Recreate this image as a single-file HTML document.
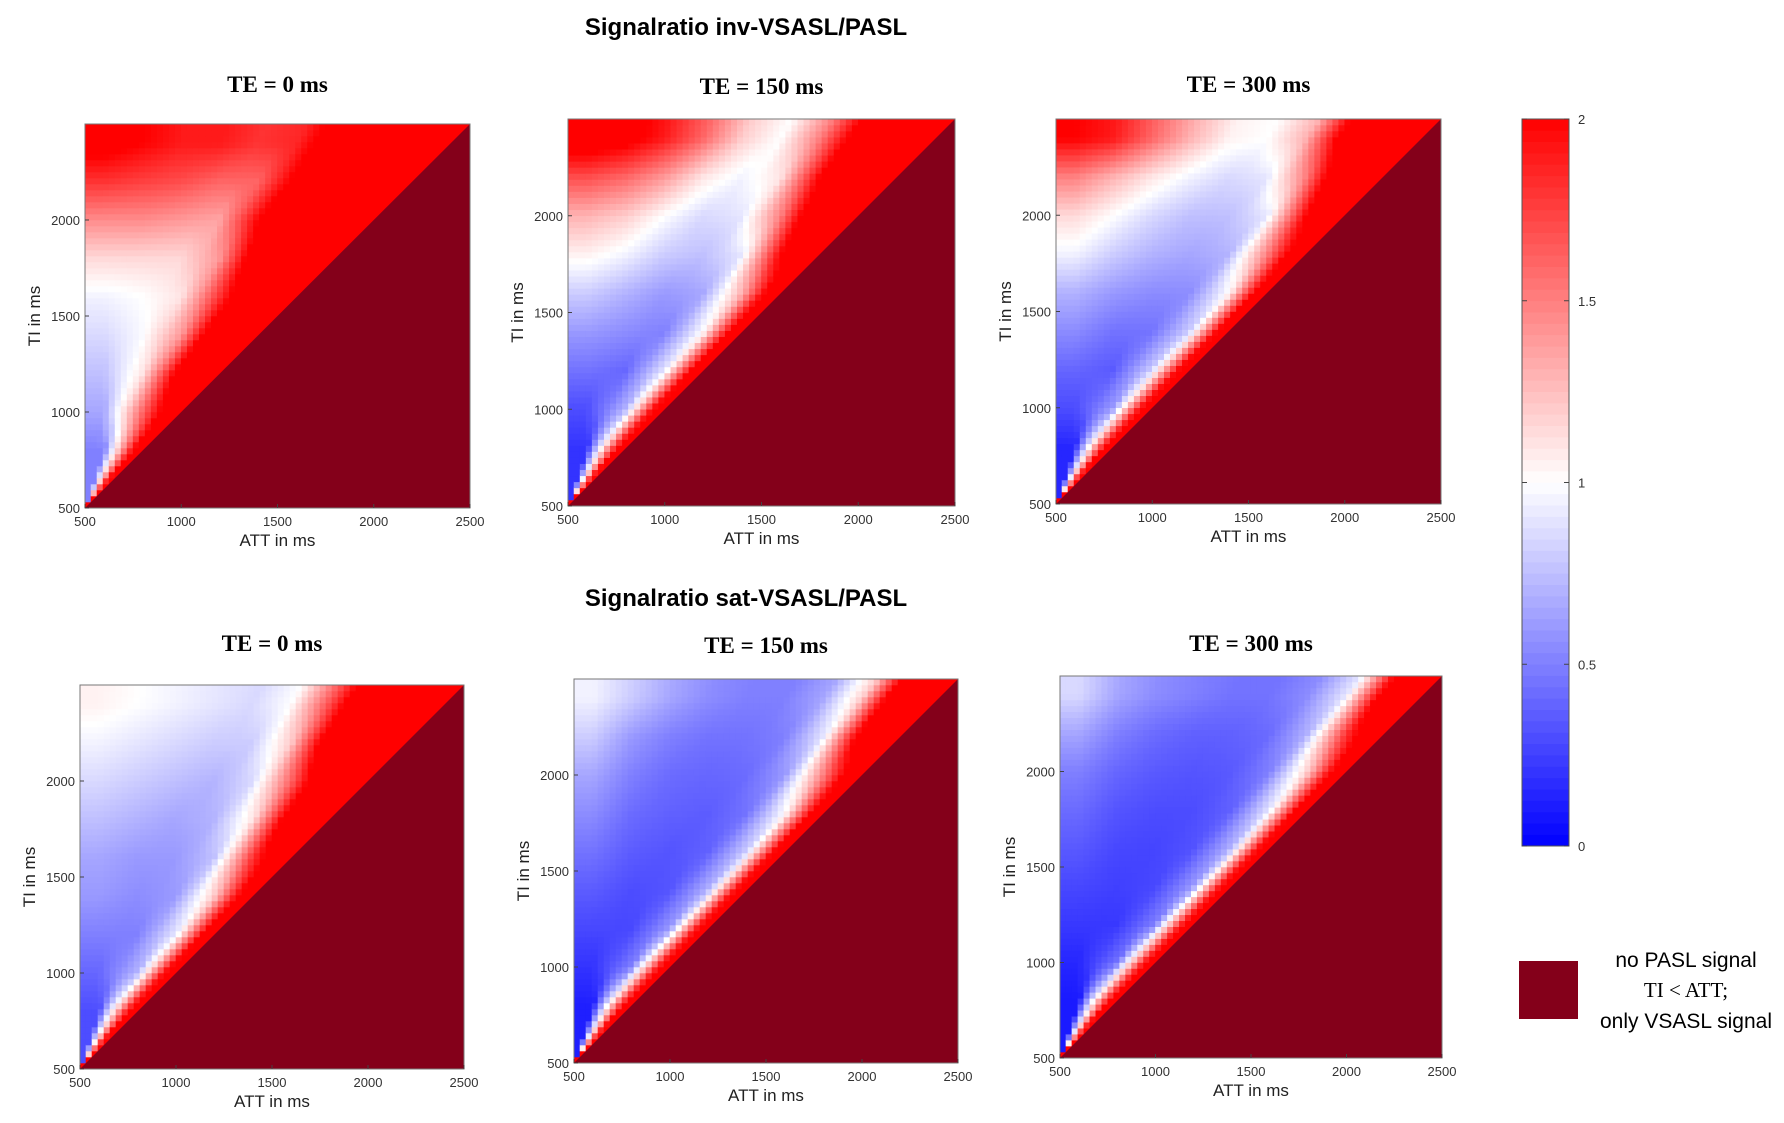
<!DOCTYPE html>
<html><head><meta charset="utf-8">
<style>
html,body{margin:0;padding:0;background:#fff;}
svg{display:block;}
.tick{font-family:"Liberation Sans",sans-serif;font-size:13px;fill:#333;}
.axl{font-family:"Liberation Sans",sans-serif;font-size:17px;fill:#222;}
.sub{font-family:"Liberation Serif",serif;font-size:23px;font-weight:bold;fill:#000;}
.main{font-family:"Liberation Sans",sans-serif;font-size:24px;font-weight:bold;fill:#000;}
.leg{font-family:"Liberation Sans",sans-serif;font-size:21px;fill:#000;}
</style></head>
<body>
<svg id="fig" width="1784" height="1123" viewBox="0 0 1784 1123" xmlns="http://www.w3.org/2000/svg">
<text class="main" x="746" y="35" text-anchor="middle">Signalratio inv-VSASL/PASL</text>
<text class="main" x="746" y="606" text-anchor="middle">Signalratio sat-VSASL/PASL</text>
<g id="panels"></g>
<g id="cbar"></g>
<rect x="1519" y="961" width="59" height="58" fill="#84001a"/>
<text class="leg" x="1686" y="967" text-anchor="middle">no PASL signal</text>
<text class="leg" x="1686" y="997" text-anchor="middle" style="font-family:'Liberation Serif',serif">TI &lt; ATT;</text>
<text class="leg" x="1686" y="1028" text-anchor="middle">only VSASL signal</text>
</svg>
<script>
// axis data
const xTicks = [500, 1000, 1500, 2000, 2500];
const yTicks = [500, 1000, 1500, 2000];
const attCenters = [600, 800, 1000, 1200, 1400, 1600, 1800, 2000, 2200, 2400];
const tiCenters = [2400, 2200, 2000, 1800, 1600, 1400, 1200, 1000, 800, 600];
const cbarTicks = [0, 0.5, 1, 1.5, 2];
const panelTitles = ["TE = 0 ms", "TE = 150 ms", "TE = 300 ms", "TE = 0 ms", "TE = 150 ms", "TE = 300 ms"];
// ratio grids: rows = TI (top->bottom, tiCenters), cols = ATT (attCenters); last entry of each row is at ATT = TI
const invTE0 = [
[2.1,2.0,1.9,1.9,1.8,1.85,2.2,2.5,2.5,2.5],
[1.8,1.75,1.7,1.6,1.6,2.1,2.5,2.5,2.5],
[1.45,1.45,1.4,1.35,2.0,2.5,2.5,2.5],
[1.15,1.15,1.15,1.4,2.3,2.5,2.5],
[0.95,1.0,1.1,1.8,2.5,2.5],
[0.85,0.98,1.4,2.5,2.5],
[0.75,1.1,2.2,2.5],
[0.65,1.6,2.5],
[0.5,2.5],
[2.5]];
const invTE150 = [
[2.2,2.1,1.9,1.6,1.2,1.0,1.5,2.2,2.5,2.5],
[1.7,1.6,1.4,1.1,0.95,1.1,2.0,2.5,2.5],
[1.3,1.2,1.0,0.85,0.9,1.5,2.5,2.5],
[1.05,0.95,0.8,0.75,0.9,2.0,2.5],
[0.8,0.7,0.6,0.65,1.3,2.5],
[0.6,0.55,0.5,1.0,2.5],
[0.45,0.4,0.9,2.5],
[0.3,0.7,2.5],
[0.2,2.5],
[2.5]];
const invTE300 = [
[2.0,1.9,1.6,1.3,1.05,1.0,1.3,2.2,2.5,2.5],
[1.5,1.3,1.1,0.95,0.85,0.9,1.5,2.5,2.5],
[1.15,1.0,0.85,0.75,0.75,0.9,2.0,2.5],
[0.95,0.8,0.7,0.65,0.7,1.5,2.5],
[0.7,0.6,0.55,0.55,1.0,2.5],
[0.55,0.45,0.45,0.8,2.5],
[0.4,0.35,0.8,2.5],
[0.3,0.6,2.5],
[0.15,2.5],
[2.5]];
const satTE0 = [
[1.05,1.0,0.95,0.9,0.85,1.0,1.7,2.5,2.5,2.5],
[0.95,0.9,0.85,0.8,0.8,1.2,2.3,2.5,2.5],
[0.85,0.8,0.75,0.7,0.85,1.6,2.5,2.5],
[0.75,0.7,0.65,0.7,1.1,2.3,2.5],
[0.65,0.6,0.6,0.75,1.8,2.5],
[0.6,0.55,0.6,1.2,2.5],
[0.5,0.5,0.9,2.5],
[0.4,0.7,2.5],
[0.3,2.5],
[2.5]];
const satTE150 = [
[0.95,0.8,0.65,0.55,0.5,0.5,0.65,1.2,2.5,2.5],
[0.8,0.6,0.5,0.45,0.45,0.5,0.9,2.2,2.5],
[0.65,0.5,0.42,0.4,0.42,0.6,1.5,2.5],
[0.55,0.42,0.38,0.36,0.45,1.0,2.5],
[0.45,0.36,0.33,0.38,0.8,2.5],
[0.36,0.3,0.33,0.7,2.5],
[0.28,0.28,0.6,2.5],
[0.2,0.5,2.5],
[0.12,2.5],
[2.5]];
const satTE300 = [
[0.85,0.65,0.55,0.5,0.45,0.45,0.55,0.9,2.2,2.5],
[0.65,0.5,0.42,0.38,0.38,0.42,0.7,1.8,2.5],
[0.5,0.4,0.35,0.33,0.35,0.5,1.2,2.5],
[0.42,0.33,0.3,0.3,0.38,0.9,2.5],
[0.35,0.28,0.27,0.32,0.7,2.5],
[0.28,0.25,0.28,0.6,2.5],
[0.22,0.22,0.5,2.5],
[0.15,0.45,2.5],
[0.1,2.5],
[2.5]];
const grids = [invTE0, invTE150, invTE300, satTE0, satTE150, satTE300];

const NS = "http://www.w3.org/2000/svg";
const boxes = [
 {x:85,y:124,w:385,h:384,ty:92},
 {x:568,y:119,w:387,h:387,ty:94},
 {x:1056,y:119,w:385,h:385,ty:92},
 {x:80,y:685,w:384,h:384,ty:651},
 {x:574,y:679,w:384,h:384,ty:653},
 {x:1060,y:676,w:382,h:382,ty:651}];

function col(v){
  v = Math.max(0, Math.min(2, v));
  let r,g,b;
  if (v < 1){ r = g = Math.round(255*v); b = 255; }
  else { r = 255; g = b = Math.round(255*(2-v)); }
  return `rgb(${r},${g},${b})`;
}
function el(tag, attrs, parent){
  const e = document.createElementNS(NS, tag);
  for (const k in attrs) e.setAttribute(k, attrs[k]);
  parent.appendChild(e);
  return e;
}
// 1D interpolation along a row at fan ratio r = (ATT-500)/(TI-500)
function rowAt(grid, i, r){
  const row = grid[i];
  const tiRow = tiCenters[i];
  const att = 500 + r*(tiRow-500);
  const n = row.length;
  if (att <= attCenters[0]) return row[0];
  if (att >= attCenters[n-1]) return row[n-1];
  const f = (att - attCenters[0])/200;
  const j = Math.floor(f), t = f - j;
  return row[j]*(1-t) + row[Math.min(j+1,n-1)]*t;
}
function sample(grid, att, ti){
  const r = (att-500)/Math.max(1,(ti-500));
  const tiC = Math.max(800, Math.min(2400, ti));
  const fi = (2400 - tiC)/200;
  const i0 = Math.min(7, Math.floor(fi)), t = fi - i0;
  return rowAt(grid, i0, r)*(1-t) + rowAt(grid, i0+1, r)*t;
}

const root = document.getElementById('panels');
grids.forEach((grid, p) => {
  const B = boxes[p];
  const sx = v => B.x + (v-500)/2000*B.w;
  const sy = v => B.y + B.h - (v-500)/2000*B.h;
  const g = el('g', {}, root);
  
  
  const t = el('text', {class:'sub', x: B.x + B.w/2, y: B.ty, 'text-anchor':'middle'}, g);
  t.textContent = panelTitles[p];
  
  
  const N = 64, step = 2000/N;
  for (let a = 0; a < N; a++){
    for (let b = 0; b < N; b++){
      const att = 500 + (a+0.5)*step, ti = 500 + (b+0.5)*step;
      if (att > ti + step) continue;
      const r = el('rect', {x: sx(att-step/2)-0.3, y: sy(ti+step/2)-0.3, width: B.w/N+0.6, height: B.h/N+0.6, fill: col(sample(grid, Math.min(att, ti), ti))}, g);
      
      
    }
  }
  const tri = el('polygon', {points: `${sx(500)},${sy(500)} ${sx(2500)},${sy(2500)} ${sx(2500)},${sy(500)}`, fill:'#84001a'}, g);
  
  
  const fr = el('rect', {x:B.x, y:B.y, width:B.w, height:B.h, fill:'none', stroke:'#777', 'stroke-width':1}, g);
  
  
  xTicks.forEach(v => {
    const xt = el('text', {class:'tick', x:sx(v), y:B.y+B.h+18, 'text-anchor':'middle'}, g);
    xt.textContent = v;
    
    
    el('line', {x1:sx(v), x2:sx(v), y1:B.y+B.h, y2:B.y+B.h-4, stroke:'#444'}, g);
  });
  yTicks.forEach(v => {
    const yt = el('text', {class:'tick', x:B.x-5, y:sy(v)+5, 'text-anchor':'end'}, g);
    yt.textContent = v;
    
    
    el('line', {x1:B.x, x2:B.x+4, y1:sy(v), y2:sy(v), stroke:'#444'}, g);
  });
  const xl = el('text', {class:'axl', x:B.x+B.w/2, y:B.y+B.h+38, 'text-anchor':'middle'}, g);
  xl.textContent = 'ATT in ms';
  
  
  const yx = B.x - 45, yy = B.y + B.h/2;
  const yl = el('text', {class:'axl', x:yx, y:yy, 'text-anchor':'middle', transform:`rotate(-90 ${yx} ${yy})`}, g);
  yl.textContent = 'TI in ms';
  
  
});

// colorbar
const cb = document.getElementById('cbar');
const CB = {x:1522, y:119, w:47, h:727};
const cy = v => CB.y + CB.h - v/2*CB.h;
const levels = 64;
for (let k = 0; k < levels; k++){
  const v0 = k/levels*2, v1 = (k+1)/levels*2;
  const r = el('rect', {x:CB.x, y:cy(v1)-0.3, width:CB.w, height:cy(v0)-cy(v1)+0.6, fill:col((v0+v1)/2)}, cb);
  
  
}
el('rect', {x:CB.x, y:CB.y, width:CB.w, height:CB.h, fill:'none', stroke:'#555'}, cb);
cbarTicks.forEach(v => {
  el('line', {x1:CB.x, x2:CB.x+5, y1:cy(v), y2:cy(v), stroke:'#444'}, cb);
  el('line', {x1:CB.x+CB.w-5, x2:CB.x+CB.w, y1:cy(v), y2:cy(v), stroke:'#444'}, cb);
  const t = el('text', {class:'tick', x:CB.x+CB.w+9, y:cy(v)+5}, cb);
  t.textContent = v;
  
  
});
</script>
</body></html>
